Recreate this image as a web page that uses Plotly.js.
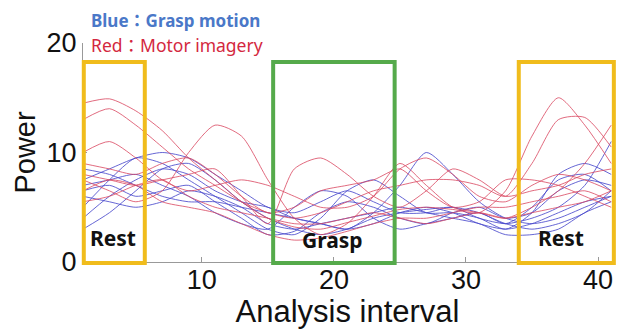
<!DOCTYPE html>
<html>
<head>
<meta charset="utf-8">
<script src="https://cdn.plot.ly/plotly-3.0.1.min.js"></script>
<style>html,body{margin:0;padding:0;background:#fff;}#chart{width:619px;height:329px;}</style>
</head>
<body>
<div id="chart"></div>
<script>
// Analysis intervals (x) sampled every 2
const intervals = [1,3,5,7,9,11,13,15,17,19,21,23,25,27,29,31,33,35,37,39,41];

// Red: Motor imagery
const red1 = [14.5,14.9,13.8,12.0,9.5,7.5,5.5,4.0,3.2,3.0,3.6,4.2,4.8,5.0,4.8,4.5,6.5,11.5,15.0,12.5,9.0];
const red2 = [13.0,14.0,12.5,10.5,8.5,7.0,5.5,4.5,4.0,4.5,5.5,6.5,7.0,7.5,7.5,7.0,6.0,9.0,13.0,13.2,10.5];
const red3 = [10.0,11.0,9.5,7.5,6.5,7.0,7.5,7.0,6.0,5.0,5.0,6.0,8.5,9.5,8.0,6.0,5.5,7.0,8.0,7.5,6.5];
const red4 = [7.5,6.5,5.5,6.5,10.0,12.5,11.5,7.5,4.0,2.5,3.5,6.0,9.0,7.0,5.0,4.5,4.0,5.0,6.5,9.0,12.5];
const red5 = [8.0,7.5,7.0,7.5,8.0,8.5,6.0,3.5,8.5,9.5,8.0,6.0,5.0,6.5,8.5,7.5,6.0,6.5,7.0,8.0,8.5];
const red6 = [6.5,7.5,7.0,5.5,5.0,4.5,3.5,2.5,2.0,2.2,2.8,3.5,4.0,4.0,4.5,5.0,5.0,5.5,6.0,6.5,5.5];
const red7 = [9.0,8.5,8.0,9.0,9.5,8.0,6.0,4.5,5.0,6.5,7.0,7.5,8.5,6.5,5.0,5.5,7.5,7.5,7.0,6.0,5.0];
const red8 = [5.5,6.0,7.0,7.5,6.0,5.0,4.5,4.0,3.5,3.5,4.0,4.5,4.0,3.5,4.0,4.5,4.0,4.5,5.0,5.5,6.5];

// Blue: Grasp motion
const blue1 = [7.5,8.5,9.5,10.0,9.5,8.0,6.5,5.0,4.5,5.5,6.5,5.5,4.5,4.5,5.0,4.0,3.5,4.0,5.0,7.0,11.0];
const blue2 = [5.0,7.5,9.5,9.0,7.5,6.0,4.5,3.0,2.5,4.0,6.5,7.5,6.0,4.5,4.5,4.0,3.0,4.5,8.0,9.0,8.0];
const blue3 = [4.0,6.0,7.5,8.5,8.0,6.5,5.5,5.0,4.0,3.5,3.0,4.5,7.0,10.0,8.0,5.5,4.0,3.5,4.0,5.0,6.0];
const blue4 = [3.0,4.5,6.5,8.5,9.0,7.5,5.5,4.0,3.0,2.5,3.0,4.0,4.5,4.8,5.0,4.5,3.5,3.0,3.5,4.5,6.5];
const blue5 = [6.5,7.0,6.0,6.5,7.0,5.5,4.0,2.5,2.8,4.5,5.5,5.0,4.0,3.5,4.5,5.0,4.0,4.5,6.5,7.5,7.0];
const blue6 = [8.5,8.0,7.0,6.0,5.5,5.5,5.0,4.5,4.0,3.5,3.0,3.5,4.5,5.0,4.5,3.5,3.0,3.5,4.5,5.5,6.0];
const blue7 = [6.0,5.5,5.0,5.5,6.5,6.0,5.0,3.5,3.0,3.5,4.0,4.5,5.0,4.5,4.0,3.5,2.5,2.5,3.0,4.5,5.5];
const blue8 = [7.0,7.5,8.0,7.0,6.0,4.5,3.5,3.0,5.0,6.5,6.0,4.0,3.0,3.5,4.0,4.5,3.5,5.0,7.5,8.0,6.5];

const redSeries = [red1,red2,red3,red4,red5,red6,red7,red8];
const blueSeries = [blue1,blue2,blue3,blue4,blue5,blue6,blue7,blue8];

// Boxes: [start, end] intervals
const restBox1 = [1.06, 5.68];
const graspBox = [15.4, 24.6];
const restBox2 = [34.0, 41.2];

const boxLabels = [
  {text:'Rest', x:3.3, y:2.2},
  {text:'Grasp', x:19.9, y:2.0},
  {text:'Rest', x:37.2, y:2.2}
];

const xRange = [1, 41.06];

const traces = [];
blueSeries.forEach(s => traces.push({x:intervals, y:s, mode:'lines',
  line:{color:'rgba(75,75,205,0.85)', width:1, shape:'spline', smoothing:0.7}, hoverinfo:'skip'}));
redSeries.forEach(s => traces.push({x:intervals, y:s, mode:'lines',
  line:{color:'rgba(218,70,95,0.8)', width:1, shape:'spline', smoothing:0.7}, hoverinfo:'skip'}));

// convert interval to paper fraction so box outlines are not clipped at the plot edge
function toPaper(v){ return (v - xRange[0]) / (xRange[1] - xRange[0]); }
function box(range, color){
  return {type:'rect', xref:'paper', yref:'paper', x0:toPaper(range[0]), x1:toPaper(range[1]), y0:-0.005, y1:0.913,
          line:{color:color, width:4}, fillcolor:'rgba(0,0,0,0)', layer:'above'};
}

const annotations = boxLabels.map(b => ({
  text:'<b>'+b.text+'</b>', x:b.x, y:b.y, xref:'x', yref:'y', showarrow:false,
  font:{family:'Noto Sans, sans-serif', size:21, color:'#111'}
}));
annotations.push({text:'<b>Blue：Grasp motion</b>', xref:'paper', yref:'paper', x:0.012, y:1.105,
  xanchor:'left', yanchor:'middle', showarrow:false,
  font:{family:'Noto Sans, Noto Sans CJK JP, sans-serif', size:17, color:'#4A78C8'}});
annotations.push({text:'Red：Motor imagery', xref:'paper', yref:'paper', x:0.012, y:0.99,
  xanchor:'left', yanchor:'middle', showarrow:false,
  font:{family:'Noto Sans, Noto Sans CJK JP, sans-serif', size:17.5, color:'#D42840'}});

const layout = {
  width:619, height:329,
  margin:{l:83, r:7, t:43, b:67},
  paper_bgcolor:'#fff', plot_bgcolor:'#fff',
  showlegend:false,
  font:{family:'Liberation Sans, Arial, sans-serif', color:'#111'},
  xaxis:{range:xRange, tickvals:[10,20,30,40], ticks:'inside', ticklen:5, tickcolor:'#999',
         showline:true, linecolor:'#999', linewidth:1, showgrid:false, zeroline:false,
         ticklabelstandoff:-6,
         tickfont:{size:27}, title:{text:'Analysis interval', font:{size:31}, standoff:0}},
  yaxis:{range:[0,20], tickvals:[0,10,20], ticks:'inside', ticklen:4, tickcolor:'#999',
         showline:true, linecolor:'#999', linewidth:1, showgrid:false, zeroline:false,
         tickfont:{size:27}, title:{text:'Power', font:{size:29}, standoff:2}},
  shapes:[box(restBox1,'#F0BC1C'), box(graspBox,'#55AA4B'), box(restBox2,'#F0BC1C')],
  annotations:annotations
};

Plotly.newPlot('chart', traces, layout, {staticPlot:true, displayModeBar:false});
</script>
</body>
</html>
